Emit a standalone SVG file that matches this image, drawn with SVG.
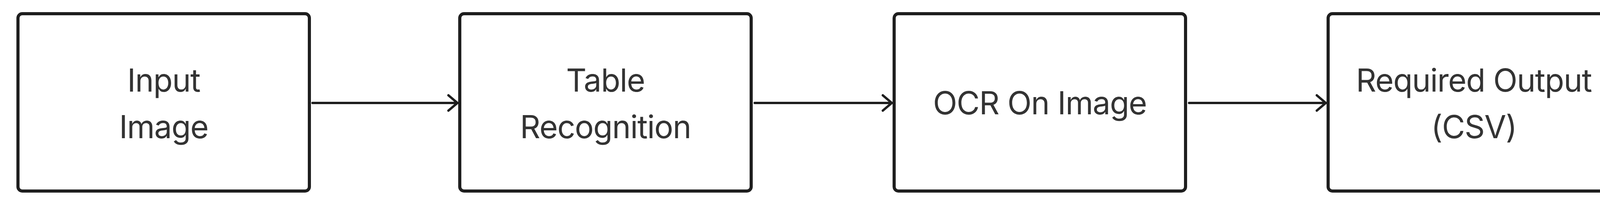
<svg xmlns="http://www.w3.org/2000/svg" width="4177" height="516" viewBox="0 0 4177 516">
  <defs>
    <style>
      .box { fill: #ffffff; stroke: #1e1e1e; stroke-width: 8; }
      .lbl { font-family: Inter, "Noto Sans", "Liberation Sans", sans-serif; font-size: 81px; letter-spacing: -1.4px; fill: #333333; text-anchor: middle; }
      .conn { fill: none; stroke: #1e1e1e; stroke-width: 6; stroke-linecap: round; stroke-linejoin: round; }
    </style>
    <marker id="chev" markerUnits="userSpaceOnUse" viewBox="-30 -25 36 50" refX="0" refY="0" markerWidth="36" markerHeight="50" orient="auto" overflow="visible">
      <path d="M -23 -19.5 L 0 0 L -23 19.5" fill="none" stroke="#1e1e1e" stroke-width="6" stroke-linecap="round" stroke-linejoin="round"/>
    </marker>
  </defs>
  <rect width="4177" height="516" fill="#ffffff"/>
  <g id="connectors">
    <path class="conn" d="M 800 263 L 1171 263" marker-end="url(#chev)"/>
    <path class="conn" d="M 1932 263 L 2283 263" marker-end="url(#chev)"/>
    <path class="conn" d="M 3044 263 L 3394 263" marker-end="url(#chev)"/>
  </g>
  <g id="node-input-image">
    <rect class="box" x="46" y="35" width="746" height="453" rx="11" ry="11"/>
    <text class="lbl" x="419" y="234">Input</text>
    <text class="lbl" x="419" y="353">Image</text>
  </g>
  <g id="node-table-recognition">
    <rect class="box" x="1177" y="35" width="746" height="453" rx="11" ry="11"/>
    <text class="lbl" x="1550" y="234">Table</text>
    <text class="lbl" x="1550" y="353">Recognition</text>
  </g>
  <g id="node-ocr-on-image">
    <rect class="box" x="2289" y="35" width="746" height="453" rx="11" ry="11"/>
    <text class="lbl" x="2662" y="292">OCR On Image</text>
  </g>
  <g id="node-required-output">
    <rect class="box" x="3400" y="35" width="746" height="453" rx="11" ry="11"/>
    <text class="lbl" x="3773" y="234">Required Output</text>
    <text class="lbl" x="3773" y="353">(CSV)</text>
  </g>
</svg>
